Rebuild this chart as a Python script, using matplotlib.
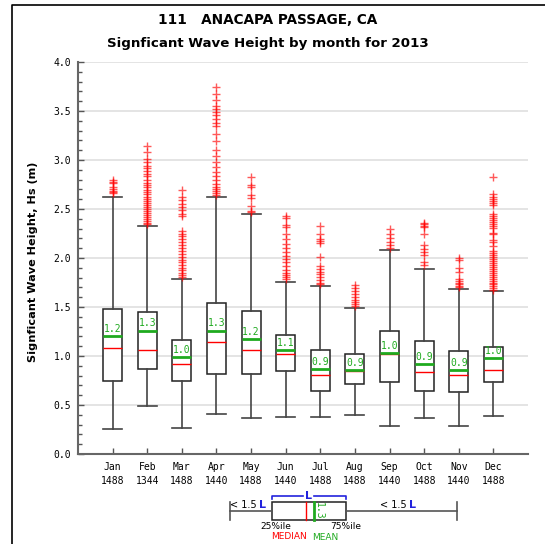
import matplotlib
matplotlib.use("Agg")
import matplotlib.pyplot as plt
from matplotlib.patches import Rectangle
from matplotlib.ticker import MultipleLocator, FormatStrFormatter

# ---- monthly statistics of significant wave height (m) ----
months = ["Jan", "Feb", "Mar", "Apr", "May", "Jun",
          "Jul", "Aug", "Sep", "Oct", "Nov", "Dec"]
counts = [1488, 1344, 1488, 1440, 1488, 1440,
          1488, 1488, 1440, 1488, 1440, 1488]
q1 = [0.74, 0.87, 0.74, 0.82, 0.82, 0.85, 0.64, 0.71, 0.73, 0.64, 0.63, 0.73]
median = [1.08, 1.06, 0.92, 1.14, 1.06, 1.02, 0.81, 0.85, 1.02, 0.84, 0.81, 0.86]
q3 = [1.48, 1.45, 1.16, 1.54, 1.46, 1.21, 1.06, 1.02, 1.26, 1.15, 1.05, 1.09]
mean = [1.20, 1.26, 0.99, 1.26, 1.17, 1.06, 0.87, 0.86, 1.03, 0.92, 0.86, 0.98]
whisker_low = [0.26, 0.49, 0.27, 0.41, 0.37, 0.38, 0.38, 0.40, 0.29, 0.37, 0.29, 0.39]
whisker_high = [2.62, 2.33, 1.79, 2.62, 2.45, 1.76, 1.71, 1.49, 2.08, 1.89, 1.68, 1.66]

outliers = [
    [2.66, 2.67, 2.68, 2.70, 2.72, 2.77, 2.78, 2.80],
    [3.14, 3.08, 3.01, 2.98, 2.94, 2.92, 2.89, 2.86, 2.84, 2.80, 2.77, 2.74,
     2.72, 2.69, 2.67, 2.65, 2.62, 2.60, 2.58, 2.56, 2.54, 2.52, 2.50, 2.48,
     2.46, 2.44, 2.42, 2.40, 2.38, 2.36, 2.35],
    [2.69, 2.62, 2.59, 2.55, 2.52, 2.49, 2.45, 2.43, 2.28, 2.25, 2.22, 2.19,
     2.16, 2.13, 2.10, 2.07, 2.04, 2.01, 1.98, 1.96, 1.93, 1.90, 1.88, 1.85,
     1.83, 1.81],
    [3.75, 3.67, 3.61, 3.55, 3.52, 3.49, 3.46, 3.42, 3.38, 3.35, 3.27, 3.19,
     3.10, 3.04, 2.98, 2.93, 2.88, 2.84, 2.80, 2.76, 2.72, 2.70, 2.68, 2.66,
     2.64],
    [2.83, 2.75, 2.72, 2.64, 2.61, 2.53, 2.48, 2.47],
    [2.43, 2.41, 2.34, 2.32, 2.25, 2.19, 2.14, 2.10, 2.06, 2.02, 1.99, 1.96,
     1.92, 1.88, 1.85, 1.83, 1.81, 1.79],
    [2.33, 2.25, 2.19, 2.17, 2.15, 2.01, 1.92, 1.89, 1.86, 1.84, 1.81, 1.78,
     1.75, 1.73],
    [1.72, 1.69, 1.66, 1.63, 1.60, 1.57, 1.55, 1.53, 1.51],
    [2.30, 2.24, 2.20, 2.16, 2.13, 2.10],
    [2.36, 2.35, 2.33, 2.32, 2.25, 2.13, 2.09, 2.06, 2.03, 1.96, 1.93],
    [2.00, 1.98, 1.90, 1.86, 1.79, 1.77, 1.75, 1.73, 1.71, 1.70],
    [2.83, 2.65, 2.62, 2.60, 2.58, 2.56, 2.54, 2.45, 2.43, 2.41, 2.39, 2.37,
     2.35, 2.33, 2.31, 2.26, 2.24, 2.18, 2.16, 2.12, 2.07, 2.05, 2.03, 2.01,
     1.99, 1.97, 1.95, 1.93, 1.91, 1.89, 1.87, 1.85, 1.83, 1.81, 1.79, 1.77,
     1.75, 1.73, 1.71, 1.69, 1.67],
]

title_station = "111   ANACAPA PASSAGE, CA"
title_main = "Signficant Wave Height by month for 2013"
y_label = "Signficant Wave Height, Hs (m)"

GREEN = "#1faa1f"
MONO = "DejaVu Sans Mono"

W, H = 545, 544
fig = plt.figure(figsize=(W / 100, H / 100), dpi=100)

# main axes placed by pixel box (left 78, right 528, top 62, bottom 454)
ax = fig.add_axes([78 / W, (H - 454) / H, 450 / W, 392 / H])

stats = []
for i in range(len(months)):
    stats.append(dict(med=median[i], q1=q1[i], q3=q3[i],
                      whislo=whisker_low[i], whishi=whisker_high[i],
                      mean=mean[i], fliers=outliers[i], label=months[i]))

positions = list(range(1, len(months) + 1))
ax.bxp(stats, positions=positions, widths=0.55, capwidths=0.55,
       showmeans=True, meanline=True, patch_artist=True,
       boxprops=dict(facecolor="white", edgecolor="#222222", linewidth=1.1),
       medianprops=dict(color="red", linewidth=1.0),
       meanprops=dict(color=GREEN, linewidth=2.0, linestyle="-"),
       whiskerprops=dict(color="#444444", linewidth=1.2),
       capprops=dict(color="#444444", linewidth=1.2),
       flierprops=dict(marker="+", markeredgecolor="red", markersize=6,
                       markeredgewidth=1.0, alpha=0.65, linestyle="none"))

for p, m in zip(positions, mean):
    ax.annotate(f"{m:.1f}", (p, m), xytext=(0, 1.5), textcoords="offset points",
                ha="center", va="bottom", color=GREEN, fontsize=7, family=MONO)

ax.set_xlim(0, 13)
ax.set_ylim(0, 4.0)
ax.yaxis.set_major_locator(MultipleLocator(0.5))
ax.yaxis.set_minor_locator(MultipleLocator(0.1))
ax.yaxis.set_major_formatter(FormatStrFormatter("%.1f"))
ax.set_xticks(positions)
ax.set_xticklabels([f"{m}\n{c}" for m, c in zip(months, counts)],
                   family=MONO, fontsize=7, linespacing=1.4)
for lab in ax.get_yticklabels():
    lab.set_family(MONO)
    lab.set_fontsize(7)
ax.tick_params(axis="y", which="major", direction="in", length=4, width=1,
               color="#555555", pad=5)
ax.tick_params(axis="y", which="minor", direction="in", length=3, width=1,
               color="#555555")
ax.tick_params(axis="x", which="major", direction="in", length=4, width=1,
               color="#555555", pad=6)
ax.grid(axis="y", which="major", color="#e2e2e2", linewidth=1.3)
ax.set_axisbelow(True)
for side in ("top", "right"):
    ax.spines[side].set_visible(False)
for side in ("left", "bottom"):
    ax.spines[side].set_color("#666666")
    ax.spines[side].set_linewidth(1.5)

fig.text(268 / W, 1 - 20 / H, title_station, ha="center", va="center",
         fontsize=9.8, fontweight="bold")
fig.text(268 / W, 1 - 43 / H, title_main, ha="center", va="center",
         fontsize=9.6, fontweight="bold")
fig.text(33 / W, 1 - 262 / H, y_label, rotation=90, ha="center", va="center",
         fontsize=8.1, fontweight="bold")

# ---- overlay in pixel coordinates: page frame and box-plot key ----
ov = fig.add_axes([0, 0, 1, 1], facecolor="none")
ov.set_xlim(0, W)
ov.set_ylim(H, 0)
ov.axis("off")

ov.plot([12, 12, W], [H, 5, 5], color="black", linewidth=1.2)

kc = "#555555"
ov.plot([230, 271.7], [511, 511], color=kc, lw=1.2)
ov.plot([346, 456.7], [511, 511], color=kc, lw=1.2)
ov.plot([230, 230], [502, 520], color=kc, lw=1.2)
ov.plot([456.7, 456.7], [502, 520], color=kc, lw=1.2)
ov.add_patch(Rectangle((271.7, 501.7), 74.3, 18.3, facecolor="white",
                       edgecolor="#222222", lw=1.1))
ov.plot([305.7, 305.7], [501.7, 520], color="red", lw=1.0)
ov.plot([314.3, 314.3], [501.7, 520], color=GREEN, lw=2.0)
ov.text(319, 511, "1.3", rotation=-90, ha="center", va="center",
        color=GREEN, fontsize=7, family=MONO)

blue = "#2222dd"
ov.plot([271.7, 271.7, 303], [498.5, 495.7, 495.7], color=blue, lw=1.2)
ov.plot([314, 346, 346], [495.7, 495.7, 498.5], color=blue, lw=1.2)
ov.text(308.5, 495.7, "L", ha="center", va="center", color=blue,
        fontsize=8, fontweight="bold")

ov.text(256.7, 505, "< 1.5", ha="right", va="center", fontsize=7)
ov.text(259.5, 505, "L", ha="left", va="center", color=blue, fontsize=8,
        fontweight="bold")
ov.text(406.7, 505, "< 1.5", ha="right", va="center", fontsize=7)
ov.text(409.5, 505, "L", ha="left", va="center", color=blue, fontsize=8,
        fontweight="bold")

ov.text(276, 526.5, "25%ile", ha="center", va="center", fontsize=6.5)
ov.text(345.5, 526.5, "75%ile", ha="center", va="center", fontsize=6.5)
ov.text(288.8, 536.5, "MEDIAN", ha="center", va="center", color="red",
        fontsize=6.5)
ov.text(325.5, 537.5, "MEAN", ha="center", va="center", color=GREEN,
        fontsize=6.5)

fig.savefig("out.png", dpi=100)
